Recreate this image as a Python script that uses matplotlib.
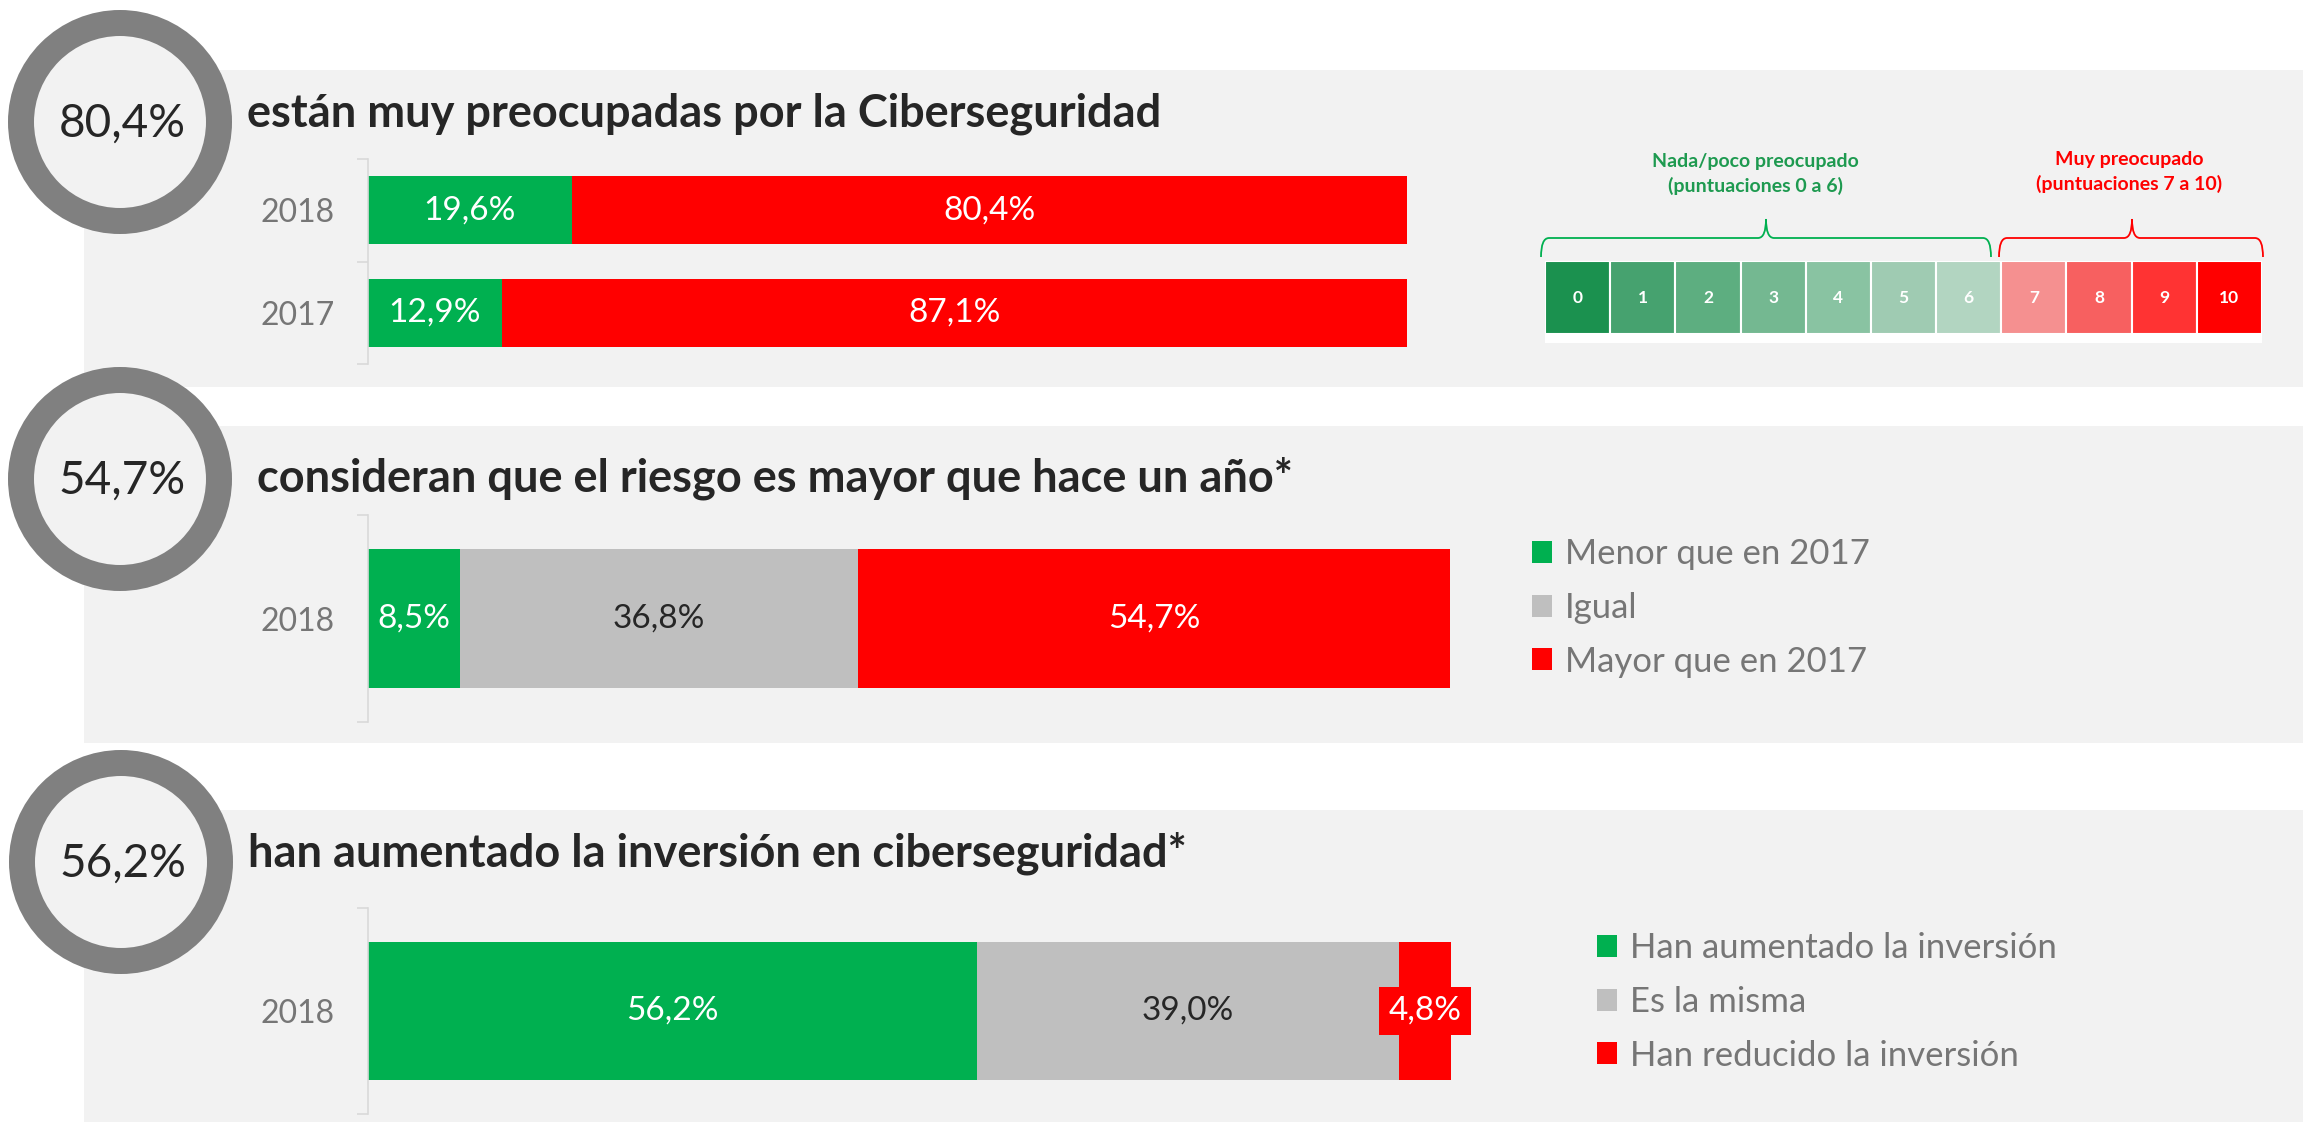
import numpy as np
import matplotlib
matplotlib.use("Agg")
import matplotlib.pyplot as plt
from matplotlib.patches import Rectangle, Circle, PathPatch
from matplotlib.path import Path

# ---------------- data ----------------
years_p1 = ["2018", "2017"]
poco_preocupado = [19.6, 12.9]
muy_preocupado = [80.4, 87.1]

years_p2 = ["2018"]
riesgo_menor = [8.5]
riesgo_igual = [36.8]
riesgo_mayor = [54.7]
riesgo_labels = ["Menor que en 2017", "Igual", "Mayor que en 2017"]

years_p3 = ["2018"]
inv_aumentado = [56.2]
inv_misma = [39.0]
inv_reducido = [4.8]
inv_labels = ["Han aumentado la inversión", "Es la misma", "Han reducido la inversión"]

titles = ["están muy preocupadas por la Ciberseguridad",
          "consideran que el riesgo es mayor que hace un año*",
          "han aumentado la inversión en ciberseguridad*"]

scores = list(range(11))
score_colors = ["#1B914F", "#46A26F", "#5DAE80", "#74B891", "#89C3A2", "#9FCBB2",
                "#B2D5C1", "#F59090", "#F76060", "#FF3333", "#FF0000"]
bracket_texts = ["Nada/poco preocupado\n(puntuaciones 0 a 6)",
                 "Muy preocupado\n(puntuaciones 7 a 10)"]

GREEN = "#00B050"
RED = "#FF0000"
GRAY = "#BFBFBF"
DARK = "#262626"
MUTED = "#767676"
PANEL = "#F2F2F2"


def pct(v):
    return f"{v:.1f}".replace(".", ",") + "%"


W, H = 2303, 1122
plt.rcParams["font.family"] = ["Lato", "DejaVu Sans"]
fig = plt.figure(figsize=(W / 100, H / 100), dpi=100)
fig.patch.set_facecolor("white")


def fax(l, t, r, b):
    return fig.add_axes([l / W, 1 - b / H, (r - l) / W, (b - t) / H])


bg = fig.add_axes([0, 0, 1, 1])
bg.set_xlim(0, W)
bg.set_ylim(H, 0)
bg.axis("off")
bg.set_zorder(0)

panels = [(70, 387), (426, 743), (810, 1122)]
for t, b in panels:
    bg.add_patch(Rectangle((84, t), W - 84, b - t, fc=PANEL, ec="none"))

circle_centers = [(120, 122), (120, 479), (121, 862)]
headline_values = [muy_preocupado[0], riesgo_mayor[0], inv_aumentado[0]]
for (cx, cy), v in zip(circle_centers, headline_values):
    bg.add_patch(Circle((cx, cy), 99, fc=PANEL, ec="#808080", lw=26 * 0.72))
    bg.text(cx + 2, cy + 2, pct(v), ha="center", va="center", fontsize=33, color=DARK)

title_pos = [(247, 126), (257, 491), (248, 866)]
for (tx, ty), s in zip(title_pos, titles):
    bg.text(tx, ty, s, ha="left", va="baseline", fontsize=32.5, fontweight="bold", color=DARK)


def bar_axes(rect, cats, series, colors, tcolors, height, extra=None):
    ax = fax(*rect)
    ax.set_zorder(2)
    ax.patch.set_alpha(0)
    y = np.arange(len(cats))
    left = np.zeros(len(cats))
    conts = []
    for i, (vals, c, tc) in enumerate(zip(series, colors, tcolors)):
        vals = np.array(vals, dtype=float)
        cont = ax.barh(y, vals, left=left, height=height, color=c, edgecolor="none")
        kw = {}
        if extra and i in extra:
            kw = extra[i]
        ax.bar_label(cont, labels=[pct(v) for v in vals], label_type="center",
                     color=tc, fontsize=24, **kw)
        left += vals
        conts.append(cont)
    ax.set_xlim(0, 100)
    ax.set_ylim(len(cats) - 0.5, -0.5)
    for s in ["top", "right", "bottom"]:
        ax.spines[s].set_visible(False)
    ax.spines["left"].set_color("#D9D9D9")
    ax.spines["left"].set_linewidth(1.2)
    ax.set_xticks([])
    ax.set_yticks(y, cats)
    ax.tick_params(axis="y", which="major", length=0, pad=24, labelsize=23, labelcolor=MUTED)
    ax.set_yticks(np.arange(-0.5, len(cats)), minor=True)
    ax.tick_params(axis="y", which="minor", length=8, width=1.2, color="#D9D9D9")
    return ax, conts


leg_kw = dict(frameon=False, fontsize=25, labelcolor=MUTED, handlelength=0.58,
              handleheight=0.58, handletextpad=0.38, labelspacing=0.62,
              borderpad=0, borderaxespad=0, bbox_transform=fig.transFigure,
              loc="center left")

# Panel 1
bar_axes((368, 159, 1407, 364), years_p1, [poco_preocupado, muy_preocupado],
         [GREEN, RED], ["white", "white"], 0.66)

# Panel 2
ax2, c2 = bar_axes((368, 515, 1450, 722), years_p2, [riesgo_menor, riesgo_igual, riesgo_mayor],
                   [GREEN, GRAY, RED], ["white", DARK, "white"], 0.667)
ax2.legend(c2, riesgo_labels, bbox_to_anchor=(1532 / W, 1 - 608 / H), **leg_kw)

# Panel 3
ax3, c3 = bar_axes((368, 908, 1451, 1114), years_p3, [inv_aumentado, inv_misma, inv_reducido],
                   [GREEN, GRAY, RED], ["white", DARK, "white"], 0.667,
                   extra={2: dict(bbox=dict(boxstyle="square,pad=0.28", fc=RED, ec="none"))})
ax3.legend(c3, inv_labels, bbox_to_anchor=(1597 / W, 1 - 1002 / H), **leg_kw)

# Score scale
sa = fax(1545, 261, 2262, 343)
sa.set_facecolor("white")
sbars = sa.bar(scores, [1] * len(scores), width=1, bottom=0, color=score_colors,
               edgecolor="white", linewidth=1.5)
sa.bar_label(sbars, labels=[str(s) for s in scores], label_type="center",
             color="white", fontsize=12.5, fontweight="bold")
sa.set_xlim(-0.5, 10.5)
sa.set_ylim(-0.123, 1.0)
for s in sa.spines.values():
    s.set_visible(False)
sa.set_xticks([])
sa.set_yticks([])


def brace(x0, x1, xp, color):
    yb, yh, yt, r = 257, 238, 219, 8
    verts = [(x0, yb), (x0, yh), (x0 + r, yh), (xp - r, yh), (xp, yh), (xp, yt),
             (xp, yh), (xp + r, yh), (x1 - r, yh), (x1, yh), (x1, yb)]
    codes = [Path.MOVETO, Path.CURVE3, Path.CURVE3, Path.LINETO, Path.CURVE3, Path.CURVE3,
             Path.CURVE3, Path.CURVE3, Path.LINETO, Path.CURVE3, Path.CURVE3]
    bg.add_patch(PathPatch(Path(verts, codes), fc="none", ec=color, lw=1.3))


brace(1541, 1991, 1766, GREEN)
brace(1999, 2263, 2132, RED)
bg.text(1755, 174, bracket_texts[0], ha="center", va="center", fontsize=14,
        fontweight="bold", color="#1E9A50", linespacing=1.45)
bg.text(2129, 172, bracket_texts[1], ha="center", va="center", fontsize=14,
        fontweight="bold", color=RED, linespacing=1.45)

fig.savefig("out.png", dpi=100, facecolor="white")
